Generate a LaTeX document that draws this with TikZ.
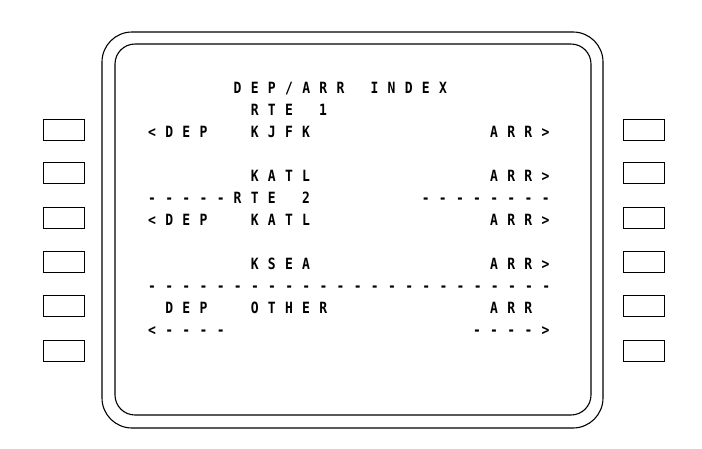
\documentclass[tikz,border=0pt]{standalone}
\usepackage{fontspec}
\newfontfamily\cdufont[LetterSpace=60,FakeStretch=0.84]{DejaVu Sans Mono}
\newcommand\cx[1]{148+#1*17.1}
\tikzset{
  cdutxt/.style={font=\cdufont\fontsize{15.5pt}{15.5pt}\selectfont\bfseries,inner sep=0pt,anchor=base west},
  keybox/.style={draw,line width=0.9pt,minimum width=41pt,minimum height=21pt,inner sep=0pt}
}
\begin{document}
\begin{tikzpicture}[x=1pt,y=-1pt]
            \useasboundingbox (0,0) rectangle (702,448);
            \draw[line width=1.1pt,rounded corners=30pt] (102,32) rectangle (603,428);
            \draw[line width=1.1pt,rounded corners=20pt] (115,44) rectangle (591,415);
            \foreach \i/\y in {1/130,2/173,3/218,4/262,5/306,6/351} {
                \node[keybox] (lsk\i) at (63.5,\y) {};
                \node[keybox] (rsk\i) at (643.5,\y) {};
            }
            \node[cdutxt] (titleA) at ({\cx{5}},93) {DEP/ARR};
            \node[cdutxt] (titleB) at ({\cx{13}},93) {INDEX};
            \node[cdutxt] (rteA) at ({\cx{6}},115) {RTE};
            \node[cdutxt] (rteAnum) at ({\cx{10}},115) {1};
            \node[cdutxt] (depA) at ({\cx{0}},137) {<DEP};
            \node[cdutxt] (orgA) at ({\cx{6}},137) {KJFK};
            \node[cdutxt] (arrA) at ({\cx{20}},137) {ARR>};
            \node[cdutxt] (dstA) at ({\cx{6}},181) {KATL};
            \node[cdutxt] (arrB) at ({\cx{20}},181) {ARR>};
            \node[cdutxt] (sepA) at ({\cx{0}},203) {-----};
            \node[cdutxt] (rteB) at ({\cx{5}},203) {RTE};
            \node[cdutxt] (rteBnum) at ({\cx{9}},203) {2};
            \node[cdutxt] (sepB) at ({\cx{16}},203) {--------};
            \node[cdutxt] (depB) at ({\cx{0}},225) {<DEP};
            \node[cdutxt] (orgB) at ({\cx{6}},225) {KATL};
            \node[cdutxt] (arrC) at ({\cx{20}},225) {ARR>};
            \node[cdutxt] (dstB) at ({\cx{6}},269) {KSEA};
            \node[cdutxt] (arrD) at ({\cx{20}},269) {ARR>};
            \node[cdutxt] (sepC) at ({\cx{0}},291) {------------------------};
            \node[cdutxt] (depO) at ({\cx{1}},313) {DEP};
            \node[cdutxt] (other) at ({\cx{6}},313) {OTHER};
            \node[cdutxt] (arrO) at ({\cx{20}},313) {ARR};
            \node[cdutxt] (depL) at ({\cx{0}},335) {<----};
            \node[cdutxt] (arrL) at ({\cx{19}},335) {---->};
        \end{tikzpicture}
\end{document}
